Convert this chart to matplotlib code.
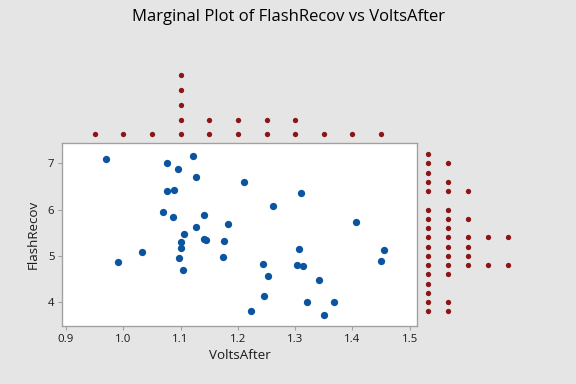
import matplotlib
matplotlib.use("Agg")
import matplotlib.pyplot as plt

# scatter data
volts_after = [0.969, 1.122, 1.076, 1.095, 1.126, 1.076, 1.088, 1.070, 1.086, 1.141,
               1.183, 1.126, 1.106, 1.100, 1.141, 1.144, 1.176, 1.101, 1.033, 1.174,
               1.098, 0.991, 1.105, 1.211, 1.310, 1.262, 1.406, 1.307, 1.455, 1.449,
               1.244, 1.303, 1.314, 1.253, 1.342, 1.246, 1.321, 1.368, 1.223, 1.351]
flash_recov = [7.09, 7.15, 7.00, 6.87, 6.70, 6.40, 6.42, 5.94, 5.83, 5.88,
               5.68, 5.62, 5.47, 5.30, 5.36, 5.34, 5.32, 5.16, 5.08, 4.97,
               4.95, 4.86, 4.69, 6.59, 6.35, 6.07, 5.73, 5.15, 5.12, 4.88,
               4.82, 4.80, 4.78, 4.56, 4.49, 4.13, 4.00, 4.00, 3.80, 3.72]

# marginal dotplots (bin centres and number of dots)
top_bins = [0.95, 1.00, 1.05, 1.10, 1.15, 1.20, 1.25, 1.30, 1.35, 1.40, 1.45]
top_counts = [1, 1, 1, 5, 2, 2, 2, 2, 1, 1, 1]
right_bins = [3.8, 4.0, 4.2, 4.4, 4.6, 4.8, 5.0, 5.2, 5.4, 5.6, 5.8, 6.0, 6.2, 6.4, 6.6, 6.8, 7.0, 7.2]
right_counts = [2, 2, 1, 1, 2, 5, 3, 3, 5, 2, 3, 2, 0, 3, 2, 1, 2, 1]

x_ticks = [0.9, 1.0, 1.1, 1.2, 1.3, 1.4, 1.5]
y_ticks = [4, 5, 6, 7]

BG = "#e5e5e5"
BLUE = "#0a54a0"
RED = "#8c1515"
EDGE = "#a0a0a0"
FONT = "Open Sans"

W, H = 576, 384
fig = plt.figure(figsize=(W / 96, H / 96), dpi=96, facecolor=BG)

def frac(x0, y0, x1, y1):
    # pixel box (top-left origin) -> figure fraction rect
    return [x0 / W, 1 - y1 / H, (x1 - x0) / W, (y1 - y0) / H]

main_l, main_t, main_r, main_b = 62.3, 142.7, 417, 326
ax = fig.add_axes(frac(main_l, main_t, main_r, main_b))
ax.set_facecolor("white")
ax.scatter(volts_after, flash_recov, s=30, color=BLUE, linewidths=0, zorder=3)
ax.set_xlim(0.8935, 1.5126)
ax.set_ylim(3.486, 7.445)
ax.set_xticks(x_ticks)
ax.set_xticklabels([f"{v:.1f}" for v in x_ticks])
ax.set_yticks(y_ticks)
for s in ax.spines.values():
    s.set_color(EDGE)
    s.set_linewidth(1.0)
ax.tick_params(colors=EDGE, labelcolor="#1a1a1a", length=3, width=0.8,
               labelsize=8.5, pad=3)
for lab in ax.get_xticklabels() + ax.get_yticklabels():
    lab.set_family(FONT)
ax.set_xlabel("VoltsAfter", family=FONT, fontsize=10, color="#1a1a1a", labelpad=3)
ax.set_ylabel("FlashRecov", family=FONT, fontsize=10, color="#1a1a1a", labelpad=6)

# top dotplot
ax_top = fig.add_axes(frac(main_l, 55, main_r, main_t), sharex=ax)
ax_top.set_facecolor(BG)
for b, c in zip(top_bins, top_counts):
    ax_top.scatter([b] * c, list(range(c)), s=16, color=RED, linewidths=0)
ax_top.set_ylim(-0.569, 5.377)
ax_top.axis("off")

# right dotplot
ax_right = fig.add_axes(frac(main_r, main_t, W, main_b), sharey=ax)
ax_right.set_facecolor(BG)
for b, c in zip(right_bins, right_counts):
    ax_right.scatter(list(range(c)), [b] * c, s=16, color=RED, linewidths=0)
ax_right.set_xlim(-0.565, 7.385)
ax_right.axis("off")

fig.text(0.5, 1 - 17 / H, "Marginal Plot of FlashRecov vs VoltsAfter", ha="center",
         va="center", family=FONT, fontsize=12.5, color="black")

fig.savefig("out.png", dpi=96, facecolor=BG)
